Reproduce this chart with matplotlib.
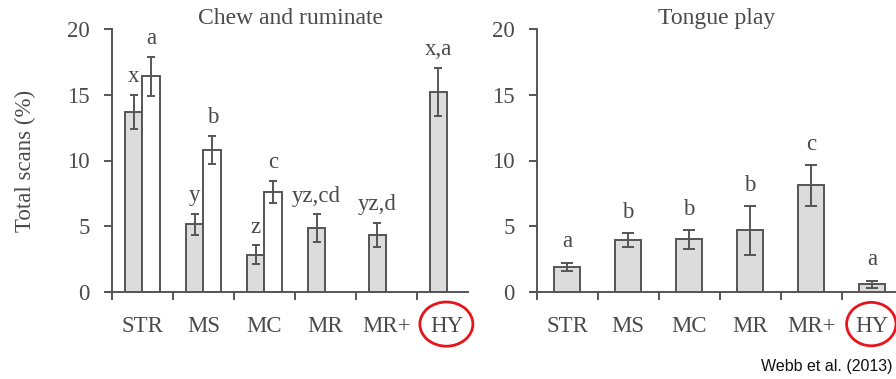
import matplotlib
matplotlib.use("Agg")
import matplotlib.pyplot as plt
from matplotlib.patches import Ellipse
from matplotlib.transforms import blended_transform_factory
import numpy as np

categories = ["STR", "MS", "MC", "MR", "MR+", "HY"]

# Chew and ruminate: grey bars (all groups), white bars (STR, MS, MC)
chew_grey = [13.7, 5.15, 2.85, 4.85, 4.35, 15.2]
chew_grey_err = [1.3, 0.8, 0.7, 1.05, 0.9, 1.85]
chew_grey_lbl = ["x", "y", "z", "yz,cd", "yz,d", "x,a"]
chew_white = [16.4, 10.8, 7.6]
chew_white_err = [1.5, 1.1, 0.85]
chew_white_lbl = ["a", "b", "c"]

# Tongue play
tongue = [1.93, 3.95, 4.0, 4.68, 8.1, 0.6]
tongue_err = [0.3, 0.5, 0.7, 1.85, 1.55, 0.26]
tongue_lbl = ["a", "b", "b", "b", "c", "a"]

yticks = [0, 5, 10, 15, 20]

TXT = "#4a4a4a"
LINE = "#555555"
GREY = "#dcdcdc"
SERIF = ["Liberation Serif", "DejaVu Serif"]
FS = 16.5

plt.rcParams["font.family"] = SERIF
plt.rcParams["font.size"] = FS

W, H = 896, 379
fig = plt.figure(figsize=(W / 100, H / 100), dpi=100)

def px_axes(x0, x1, ytop, ybot):
    return fig.add_axes([x0 / W, 1 - ybot / H, (x1 - x0) / W, (ybot - ytop) / H])

axL = px_axes(112, 468, 29, 292)
axR = px_axes(536.7, 896, 29, 292)

def style(ax, xmax):
    ax.set_xlim(-0.5, xmax)
    ax.set_ylim(0, 20)
    for s in ["top", "right"]:
        ax.spines[s].set_visible(False)
    for s in ["left", "bottom"]:
        ax.spines[s].set_color(LINE)
        ax.spines[s].set_linewidth(1.4)
    ax.set_yticks(yticks)
    ax.tick_params(axis="y", direction="out", length=6, width=1.4, color=LINE,
                   pad=10, labelcolor=TXT, labelsize=FS)
    x = np.arange(len(categories))
    ax.set_xticks(x)
    ax.set_xticklabels(categories)
    ax.set_xticks(np.arange(len(categories)) - 0.5, minor=True)
    ax.tick_params(axis="x", which="major", length=0, pad=17, labelcolor=TXT, labelsize=FS)
    ax.tick_params(axis="x", which="minor", direction="out", length=5.5, width=1.4, color=LINE)
    ax.spines["bottom"].set_bounds(-0.5 - 0.11, xmax)
    return x

# Left panel
x = style(axL, 5.34)
bw = 0.29
off = 0.145
axL.bar(x - off, chew_grey, width=bw, color=GREY, edgecolor=LINE, linewidth=1.4, zorder=2)
axL.errorbar(x - off, chew_grey, yerr=chew_grey_err, fmt="none", ecolor=LINE,
             elinewidth=1.4, capsize=3.2, capthick=1.4, zorder=3)
xw = x[:len(chew_white)] + off
axL.bar(xw, chew_white, width=bw, color="white", edgecolor=LINE, linewidth=1.4, zorder=2)
axL.errorbar(xw, chew_white, yerr=chew_white_err, fmt="none", ecolor=LINE,
             elinewidth=1.4, capsize=3.2, capthick=1.4, zorder=3)
for xi, v, e, t in zip(x - off, chew_grey, chew_grey_err, chew_grey_lbl):
    axL.annotate(t, (xi, v + e), xytext=(0, 9), textcoords="offset points",
                 ha="center", va="baseline", color=TXT, fontsize=FS, annotation_clip=False)
for xi, v, e, t in zip(xw, chew_white, chew_white_err, chew_white_lbl):
    axL.annotate(t, (xi, v + e), xytext=(0, 9), textcoords="offset points",
                 ha="center", va="baseline", color=TXT, fontsize=FS, annotation_clip=False)
axL.set_title("Chew and ruminate", color=TXT, fontsize=17, pad=3)
axL.set_ylabel("Total scans (%)", color=TXT, fontsize=FS, labelpad=22)

# Right panel
x = style(axR, 5.39)
axR.bar(x, tongue, width=0.42, color=GREY, edgecolor=LINE, linewidth=1.4, zorder=2)
axR.errorbar(x, tongue, yerr=tongue_err, fmt="none", ecolor=LINE,
             elinewidth=1.4, capsize=4.4, capthick=1.4, zorder=3)
for xi, v, e, t in zip(x, tongue, tongue_err, tongue_lbl):
    axR.annotate(t, (xi, v + e), xytext=(0, 11), textcoords="offset points",
                 ha="center", va="baseline", color=TXT, fontsize=FS, annotation_clip=False)
axR.set_title("Tongue play", color=TXT, fontsize=17, pad=3)

# Red circles around HY labels
for ax, xc, w, h in [(axL, 4.985, 0.87, 0.168), (axR, 4.985, 0.81, 0.165)]:
    tr = blended_transform_factory(ax.transData, ax.transAxes)
    ax.add_patch(Ellipse((xc, -0.122), w, h, transform=tr, fill=False,
                         edgecolor="#e8141c", linewidth=2.0, clip_on=False))

fig.text(892 / W, 1 - 366 / H, "Webb et al. (2013)", ha="right", va="center",
         fontsize=11.5, color="#111111", family=["Liberation Sans", "DejaVu Sans"])

fig.savefig("out.png", dpi=100)
